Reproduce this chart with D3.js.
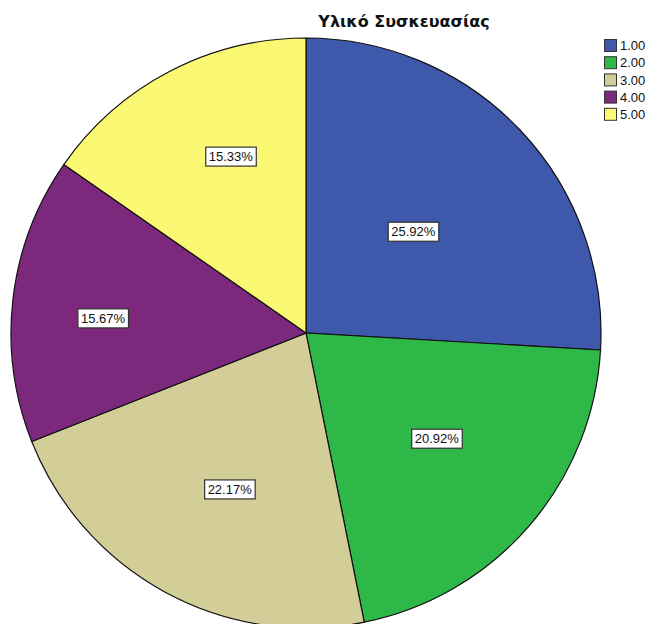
<!DOCTYPE html>
<html>
<head>
<meta charset="utf-8">
<script src="https://cdn.jsdelivr.net/npm/d3@7"></script>
<style>
  body { margin: 0; background: #fff; }
  svg { display: block; font-family: "Liberation Sans", Arial, sans-serif; }
</style>
</head>
<body>
<div id="chart"></div>
<script>
// Data
const categories = ["1.00", "2.00", "3.00", "4.00", "5.00"];
const percents = [25.92, 20.92, 22.17, 15.67, 15.33];
const colors = ["#3E58AC", "#2EB848", "#D3CE97", "#7C287D", "#FBF873"];
const title = "Υλικό Συσκευασίας";

const width = 651, height = 624;
const cx = 306, cy = 333, radius = 295;

// label placement tweaks (radius fraction, angle nudge in degrees) - SPSS places them loosely
const labelRadius = [0.5, 0.57, 0.59, 0.69, 0.65];
const labelNudge = [0, -2, -2.5, -2.5, 4.5];

const svg = d3.select("#chart").append("svg")
  .attr("width", width)
  .attr("height", height);

const g = svg.append("g")
  .attr("transform", `translate(${cx},${cy})`);

const color = d3.scaleOrdinal().domain(categories).range(colors);

const pie = d3.pie()
  .value(d => d.value)
  .sort(null);

const arc = d3.arc()
  .innerRadius(0)
  .outerRadius(radius);

const pieData = pie(categories.map((c, i) => ({ key: c, value: percents[i] })));

// slices
g.selectAll("path")
  .data(pieData)
  .enter()
  .append("path")
  .attr("d", arc)
  .attr("fill", d => color(d.data.key))
  .attr("stroke", "#111")
  .attr("stroke-width", 1.2);

// percentage labels in boxes
const labels = g.selectAll("g.label")
  .data(pieData)
  .enter()
  .append("g")
  .attr("class", "label")
  .attr("transform", (d, i) => {
    const a = (d.startAngle + d.endAngle) / 2 + labelNudge[i] * Math.PI / 180;
    const r = radius * labelRadius[i];
    return `translate(${r * Math.sin(a)},${-r * Math.cos(a)})`;
  });

labels.append("text")
  .attr("text-anchor", "middle")
  .attr("dy", "0.36em")
  .attr("font-size", "13px")
  .attr("fill", "#111")
  .text(d => d.data.value.toFixed(2) + "%");

labels.each(function() {
  const grp = d3.select(this);
  const bb = grp.select("text").node().getBBox();
  grp.insert("rect", "text")
    .attr("x", bb.x - 3)
    .attr("y", -9.5)
    .attr("width", bb.width + 6)
    .attr("height", 19)
    .attr("fill", "#fff")
    .attr("stroke", "#333")
    .attr("stroke-width", 1.2);
});

// title
svg.append("text")
  .attr("x", 404)
  .attr("y", 27)
  .attr("text-anchor", "middle")
  .attr("font-family", "'DejaVu Sans', sans-serif")
  .attr("font-size", "16px")
  .attr("font-weight", "bold")
  .attr("fill", "#111")
  .text(title);

// legend
const legend = svg.append("g")
  .attr("transform", "translate(604,39)");

legend.selectAll("rect")
  .data(categories)
  .enter()
  .append("rect")
  .attr("x", 0.5)
  .attr("y", (d, i) => i * 17.2 + 0.5)
  .attr("width", 12)
  .attr("height", 12)
  .attr("fill", d => color(d))
  .attr("stroke", "#333")
  .attr("stroke-width", 1);

legend.selectAll("text")
  .data(categories)
  .enter()
  .append("text")
  .attr("x", 16)
  .attr("y", (d, i) => i * 17.2 + 6.5)
  .attr("dy", "0.36em")
  .attr("font-size", "13px")
  .attr("fill", "#111")
  .text(d => d);
</script>
</body>
</html>
